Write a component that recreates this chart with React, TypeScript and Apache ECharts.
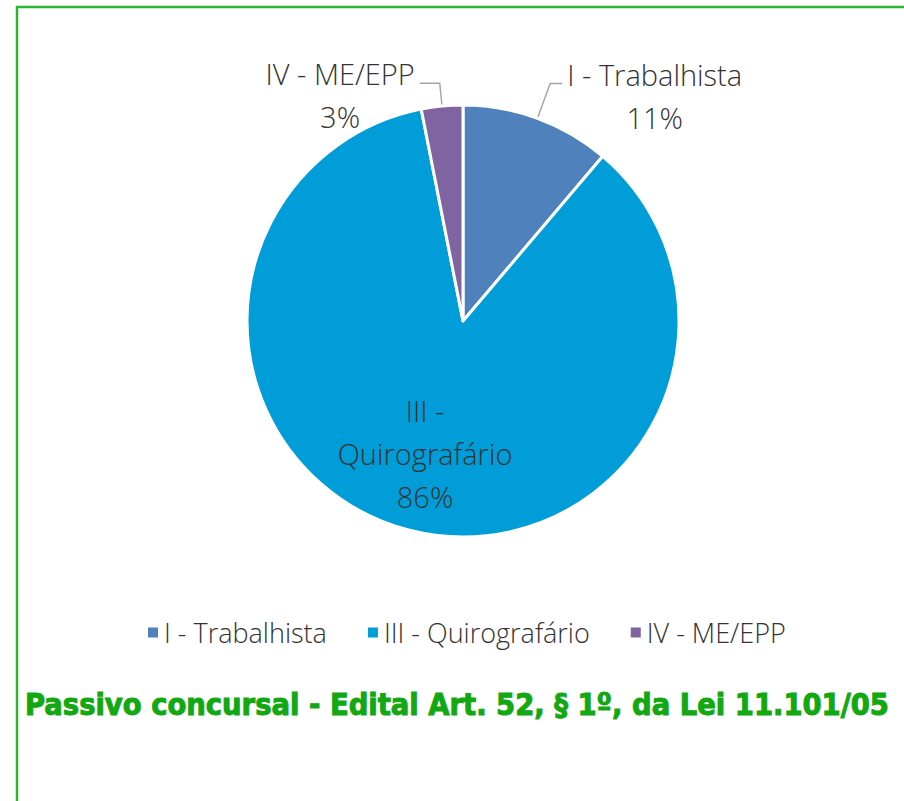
import React, { useEffect, useRef } from "react";
import * as echarts from "echarts";

const categories = ["I - Trabalhista", "III - Quirografário", "IV - ME/EPP"];
const values = [11.2, 85.7, 3.1];
const colors = ["#4F81BD", "#009DD9", "#8064A2"];
const titleText = "Passivo concursal - Edital Art. 52, § 1º, da Lei 11.101/05";

const FONT = "'Open Sans', 'Noto Sans', sans-serif";

export default function App() {
  const ref = useRef<HTMLDivElement>(null);
  useEffect(() => {
    if (!ref.current) return;
    const chart = echarts.init(ref.current, null, { renderer: "svg" });
    const labelCfg = [
      { labelLine: { length: 37, length2: 12 } },
      { label: { position: "inside", offset: [-10, 13] } },
      { labelLine: { length: 23, length2: 20 } },
    ];
    const data = categories.map((name, i) => ({
      name,
      value: values[i],
      itemStyle: { color: colors[i] },
      ...labelCfg[i],
    }));
    chart.setOption({
      animation: false,
      backgroundColor: "#ffffff",
      title: {
        text: titleText,
        left: 20,
        top: 684,
        textStyle: {
          fontFamily: "'DejaVu Sans Condensed', 'Liberation Sans Narrow', sans-serif",
          fontWeight: "bold",
          fontSize: 30.5,
          color: "#12A812",
          textBorderColor: "#12A812",
          textBorderWidth: 1,
        },
      },
      legend: {
        top: 614,
        left: 141,
        icon: "rect",
        itemWidth: 12,
        itemHeight: 12,
        itemGap: 39,
        textStyle: { fontFamily: FONT, fontSize: 27, color: "#333333", fontWeight: 300 },
        data: categories,
      },
      graphic: [
        {
          type: "rect",
          shape: { x: 17, y: 7, width: 1200, height: 1200 },
          style: { fill: "none", stroke: "#2DB52D", lineWidth: 2.5 },
          silent: true,
        },
      ],
      series: [
        {
          type: "pie",
          center: [463, 321],
          radius: [0, 216],
          startAngle: 90,
          clockwise: true,
          avoidLabelOverlap: false,
          itemStyle: { borderColor: "#ffffff", borderWidth: 3 },
          label: {
            show: true,
            position: "outside",
            formatter: (p: any) => {
              const nm = p.dataIndex === 1 ? p.name.replace(" - ", " -\n") : p.name;
              const lines = nm.split("\n").map((s: string) => `{c|${s}}`);
              lines.push(`{c|${Math.round(p.percent)}%}`);
              return lines.join("\n");
            },
            rich: {
              c: {
                align: "center",
                fontFamily: FONT,
                fontSize: 29,
                lineHeight: 43,
                color: "#333333",
                fontWeight: 300,
              },
            },
            padding: [24, 0, 0, 0],
          },
          labelLine: {
            show: true,
            lineStyle: { color: "#A6A6A6", width: 1.5 },
          },
          data,
        },
      ],
    });
    return () => chart.dispose();
  }, []);
  return (
    <div
      ref={ref}
      style={{ position: "fixed", left: 0, top: 0, width: 904, height: 801, background: "#fff" }}
    />
  );
}
